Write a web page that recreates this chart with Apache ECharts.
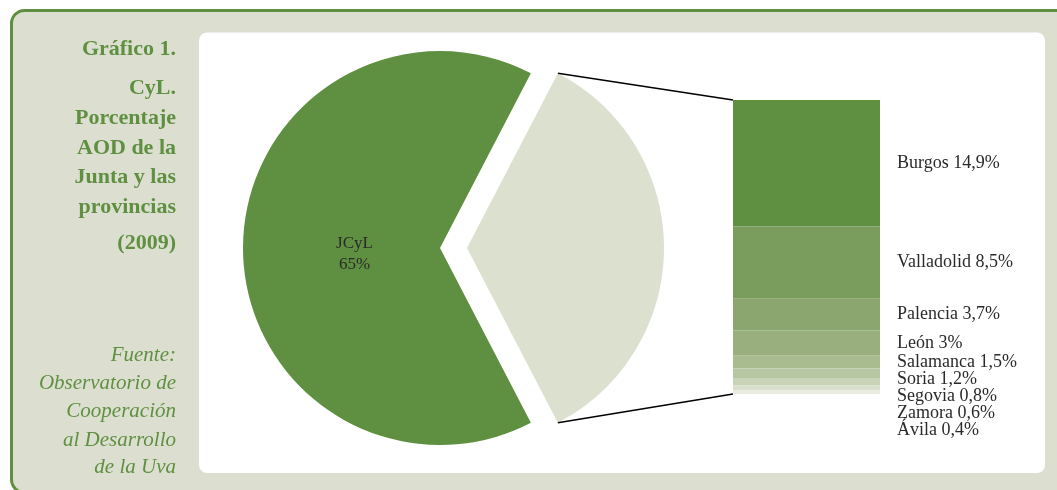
<!DOCTYPE html>
<html>
<head>
<meta charset="utf-8">
<script src="https://cdn.jsdelivr.net/npm/echarts@6/dist/echarts.min.js"></script>
<style>
  html, body { margin: 0; padding: 0; background: #ffffff; }
  #chart { width: 1057px; height: 490px; }
</style>
</head>
<body>
<div id="chart"></div>
<script>
// Provincial share of AOD in Castilla y León (2009), in percent
const provinces = ['Burgos', 'Valladolid', 'Palencia', 'León', 'Salamanca', 'Soria', 'Segovia', 'Zamora', 'Ávila'];
const provinceValues = [14.9, 8.5, 3.7, 3, 1.5, 1.2, 0.8, 0.6, 0.4];
const juntaName = 'JCyL';
const juntaValue = 65;
const provinceColors = ['#5f8f41', '#7a9c5d', '#8ba66f', '#99b07e', '#a8bc90', '#b8c7a3', '#c8d3b8', '#d8dfcc', '#e8ece1'];

const titleLines = ['Gráfico 1.', 'CyL.', 'Porcentaje', 'AOD de la', 'Junta y las', 'provincias', '(2009)'];
const titleY = [49, 88, 118, 148, 177, 207, 243];
const sourceLines = ['Fuente:', 'Observatorio de', 'Cooperación', 'al Desarrollo', 'de la Uva'];
const sourceY = [355, 383, 411, 440, 467];

const GREEN = '#5f8f41';
const SERIF = '"Liberation Serif", "DejaVu Serif", serif';

const provinceTotal = provinceValues.reduce((a, b) => a + b, 0);
const pieTotal = provinceTotal + juntaValue;
const provinceAngle = 360 * provinceTotal / pieTotal;

// Pie geometry
const pieCenter = [440, 248];
const pieRadius = 197;
const pieOffset = 27;
// Stacked bar area
const barRect = { left: 733, top: 100, width: 147, height: 294 };
const LABEL_STEP = 17;

const fmt = v => String(v).replace('.', ',');

// Label centres: middle of each segment, pushed down where they would collide
const labelCenters = [];
(function () {
  const k = barRect.height / provinceTotal;
  let cum = 0, prev = -Infinity;
  provinceValues.forEach(v => {
    let c = barRect.top + (cum + v / 2) * k;
    cum += v;
    c = Math.max(c, prev + LABEL_STEP);
    labelCenters.push(c);
    prev = c;
  });
})();

const chart = echarts.init(document.getElementById('chart'), null, { renderer: 'canvas' });

// Connector lines from the detached slice to the stacked bar
const half = provinceAngle / 2 * Math.PI / 180;
const tipX = pieCenter[0] + pieOffset;
const edgeTop = [tipX + pieRadius * Math.cos(half), pieCenter[1] - pieRadius * Math.sin(half)];
const edgeBottom = [tipX + pieRadius * Math.cos(half), pieCenter[1] + pieRadius * Math.sin(half)];

const graphics = [
  {
    type: 'rect', z: -10, silent: true,
    shape: { x: 11.5, y: 10.5, width: 1080, height: 482, r: 13 },
    style: { fill: '#dcdfd0', stroke: GREEN, lineWidth: 3 }
  },
  {
    type: 'rect', z: -9, silent: true,
    shape: { x: 199, y: 32.5, width: 846, height: 440.5, r: 8 },
    style: { fill: '#ffffff' }
  },
  {
    type: 'line', z: 50, silent: true,
    shape: { x1: edgeTop[0], y1: edgeTop[1], x2: barRect.left, y2: barRect.top },
    style: { stroke: '#000000', lineWidth: 1.5 }
  },
  {
    type: 'line', z: 50, silent: true,
    shape: { x1: edgeBottom[0], y1: edgeBottom[1], x2: barRect.left, y2: barRect.top + barRect.height },
    style: { stroke: '#000000', lineWidth: 1.5 }
  }
];
titleLines.forEach((t, i) => graphics.push({
  type: 'text', z: 5, silent: true, x: 176, y: titleY[i],
  style: { text: t, fill: GREEN, font: 'bold 22px ' + SERIF, textAlign: 'right', textVerticalAlign: 'middle' }
}));
sourceLines.forEach((t, i) => graphics.push({
  type: 'text', z: 5, silent: true, x: 176, y: sourceY[i],
  style: { text: t, fill: GREEN, font: 'italic 21px ' + SERIF, textAlign: 'right', textVerticalAlign: 'middle' }
}));

const barSeries = provinces.map((name, i) => ({
  type: 'bar',
  name: name,
  stack: 'provincias',
  barWidth: '100%',
  barCategoryGap: 0,
  silent: true,
  itemStyle: { color: provinceColors[i] },
  emphasis: { disabled: true },
  label: {
    show: true,
    position: 'right',
    distance: 17,
    color: '#2a2a2a',
    fontFamily: SERIF,
    fontSize: 18,
    lineHeight: 17,
    formatter: p => p.seriesName + ' ' + fmt(p.value) + '%'
  },
  labelLayout: () => ({ y: labelCenters[i], verticalAlign: 'middle' }),
  data: [provinceValues[i]]
}));

chart.setOption({
  animation: false,
  graphic: graphics,
  grid: { left: barRect.left, top: barRect.top, width: barRect.width, height: barRect.height },
  xAxis: { type: 'category', data: ['provincias'], show: false },
  yAxis: { type: 'value', min: 0, max: provinceTotal, inverse: true, show: false },
  series: [
    {
      type: 'pie',
      center: pieCenter,
      radius: pieRadius,
      startAngle: provinceAngle / 2,
      clockwise: true,
      selectedMode: 'single',
      selectedOffset: pieOffset,
      silent: true,
      emphasis: { disabled: true },
      labelLine: { show: false },
      label: {
        show: true,
        position: 'inside',
        formatter: '{b}\n{c}%',
        color: '#2a2a2a',
        fontFamily: SERIF,
        fontSize: 17,
        lineHeight: 21,
        offset: [16, 6]
      },
      data: [
        { name: 'Provincias', value: provinceTotal, selected: true, itemStyle: { color: '#dbe0cf' }, label: { show: false } },
        { name: juntaName, value: juntaValue, itemStyle: { color: GREEN } }
      ]
    },
    ...barSeries
  ]
});
</script>
</body>
</html>
